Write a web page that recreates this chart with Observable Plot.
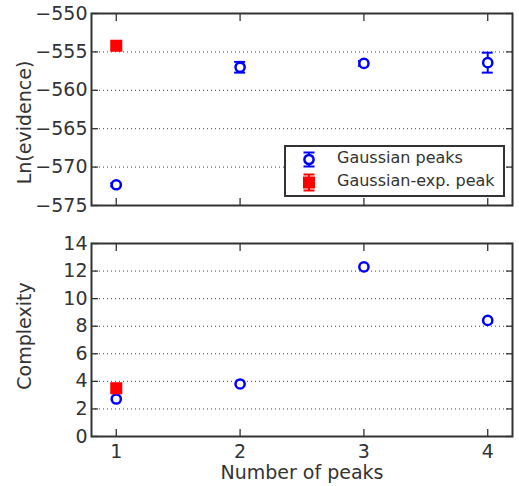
<!DOCTYPE html>
<html>
<head>
<meta charset="utf-8">
<script src="https://cdn.jsdelivr.net/npm/d3@7"></script>
<script src="https://cdn.jsdelivr.net/npm/@observablehq/plot@0.6"></script>
<style>
  html, body { margin: 0; padding: 0; background: #fff; }
  #wrap { position: relative; width: 519px; height: 486px; font-family: "DejaVu Sans", sans-serif; }
  #wrap svg { display: block; }
  #legend { position: absolute; left: 284px; top: 145px; }
</style>
</head>
<body>
<div id="wrap"></div>
<script>
// ---- data ----
const peaks = [1, 2, 3, 4];
const gaussEvidence = [-572.3, -557.0, -556.5, -556.4];
const gaussEvidenceErr = [0.2, 0.7, 0.3, 1.3];
const gaussComplexity = [2.72, 3.81, 12.3, 8.42];
const expPeaks = [1];
const expEvidence = [-554.2];
const expEvidenceErr = [0.3];
const expComplexity = [3.5];
const xTicks = [1, 2, 3, 4];
const evidenceTicks = [-575, -570, -565, -560, -555, -550];
const complexityTicks = [0, 2, 4, 6, 8, 10, 12, 14];
const seriesNames = ["Gaussian peaks", "Gaussian-exp. peak"];
const xLabel = "Number of peaks";
const evidenceLabel = "Ln(evidence)";
const complexityLabel = "Complexity";

const gauss = peaks.map((p, i) => ({x: p, ev: gaussEvidence[i], err: gaussEvidenceErr[i], cx: gaussComplexity[i]}));
const gexp = expPeaks.map((p, i) => ({x: p, ev: expEvidence[i], err: expEvidenceErr[i], cx: expComplexity[i]}));

const fmt = d3.format("d");
const ink = "#333";
const style = {fontFamily: "DejaVu Sans", fontSize: "19px", color: ink, background: "white", overflow: "visible"};

function frameAxes(yTicks, showXLabels) {
  return [
    Plot.gridY(yTicks, {stroke: "#444", strokeOpacity: 1, strokeWidth: 1, strokeDasharray: "1,3"}),
    Plot.axisY(yTicks, {anchor: "left", tickSize: -7, tickPadding: 11, tickFormat: fmt, label: null, stroke: ink, strokeWidth: 1.3, fill: ink}),
    Plot.axisY(yTicks, {anchor: "right", tickSize: -7, label: null, stroke: ink, strokeWidth: 1.3, fill: "none"}),
    Plot.axisX(xTicks, {anchor: "top", tickSize: -7, label: null, stroke: ink, strokeWidth: 1.3, fill: "none"}),
    showXLabels
      ? Plot.axisX(xTicks, {anchor: "bottom", tickSize: -7, tickPadding: 15, tickFormat: fmt, label: null, stroke: ink, strokeWidth: 1.3, fill: ink})
      : Plot.axisX(xTicks, {anchor: "bottom", tickSize: -7, label: null, stroke: ink, strokeWidth: 1.3, fill: "none"})
  ];
}

const topPlot = Plot.plot({
  width: 519, height: 224,
  marginLeft: 91, marginRight: 7, marginTop: 13, marginBottom: 19,
  x: {domain: [0.8, 4.2]},
  y: {domain: [-575, -550]},
  style,
  marks: [
    ...frameAxes(evidenceTicks, false),
    Plot.ruleX(gauss, {x: "x", y1: d => d.ev - d.err, y2: d => d.ev + d.err, stroke: "blue", strokeWidth: 2}),
    Plot.ruleY(gauss, {x1: "x", x2: "x", y: d => d.ev - d.err, insetLeft: -5.5, insetRight: -5.5, stroke: "blue", strokeWidth: 2}),
    Plot.ruleY(gauss, {x1: "x", x2: "x", y: d => d.ev + d.err, insetLeft: -5.5, insetRight: -5.5, stroke: "blue", strokeWidth: 2}),
    Plot.dot(gauss, {x: "x", y: "ev", r: 4.6, stroke: "blue", strokeWidth: 2.5, fill: "white"}),
    Plot.ruleX(gexp, {x: "x", y1: d => d.ev - d.err, y2: d => d.ev + d.err, stroke: "red", strokeWidth: 2}),
    Plot.dot(gexp, {x: "x", y: "ev", r: 6.8, symbol: "square", fill: "red", stroke: "none"}),
    Plot.text([evidenceLabel], {frameAnchor: "left", textAnchor: "middle", lineAnchor: "middle", rotate: -90, dx: -67, dy: 13, fontSize: 19, fill: ink}),
    Plot.frame({stroke: ink, strokeWidth: 2})
  ]
});

const bottomPlot = Plot.plot({
  width: 519, height: 262,
  marginLeft: 91, marginRight: 7, marginTop: 19, marginBottom: 50,
  x: {domain: [0.8, 4.2]},
  y: {domain: [0, 14]},
  style,
  marks: [
    ...frameAxes(complexityTicks, true),
    Plot.dot(gauss, {x: "x", y: "cx", r: 4.6, stroke: "blue", strokeWidth: 2.5, fill: "white"}),
    Plot.dot(gexp, {x: "x", y: "cx", r: 6.8, symbol: "square", fill: "red", stroke: "none"}),
    Plot.text([complexityLabel], {frameAnchor: "left", textAnchor: "middle", lineAnchor: "middle", rotate: -90, dx: -67, dy: -4, fontSize: 19, fill: ink}),
    Plot.text([xLabel], {frameAnchor: "bottom", textAnchor: "middle", lineAnchor: "middle", dy: 36.5, fontSize: 19, fill: ink}),
    Plot.frame({stroke: ink, strokeWidth: 2})
  ]
});

const wrap = document.getElementById("wrap");
wrap.appendChild(topPlot);
wrap.appendChild(bottomPlot);

// ---- legend ----
const lg = d3.select(wrap).append("svg")
  .attr("id", "legend").attr("width", 221).attr("height", 52);
lg.append("rect").attr("x", 1).attr("y", 1).attr("width", 219).attr("height", 50)
  .attr("fill", "white").attr("stroke", ink).attr("stroke-width", 2);
const r1 = lg.append("g").attr("transform", "translate(25,14.5)");
r1.append("line").attr("y1", -7).attr("y2", 7).attr("stroke", "blue").attr("stroke-width", 2);
r1.append("line").attr("x1", -5.5).attr("x2", 5.5).attr("y1", -7).attr("y2", -7).attr("stroke", "blue").attr("stroke-width", 2);
r1.append("line").attr("x1", -5.5).attr("x2", 5.5).attr("y1", 7).attr("y2", 7).attr("stroke", "blue").attr("stroke-width", 2);
r1.append("circle").attr("r", 4.6).attr("fill", "white").attr("stroke", "blue").attr("stroke-width", 2.5);
const r2 = lg.append("g").attr("transform", "translate(25,37.5)");
r2.append("line").attr("y1", -8).attr("y2", 8).attr("stroke", "red").attr("stroke-width", 2);
r2.append("line").attr("x1", -5.5).attr("x2", 5.5).attr("y1", -8).attr("y2", -8).attr("stroke", "red").attr("stroke-width", 2);
r2.append("line").attr("x1", -5.5).attr("x2", 5.5).attr("y1", 8).attr("y2", 8).attr("stroke", "red").attr("stroke-width", 2);
r2.append("rect").attr("x", -6).attr("y", -6).attr("width", 12).attr("height", 12).attr("fill", "red");
lg.selectAll("text.lbl").data(seriesNames).join("text")
  .attr("class", "lbl")
  .attr("x", 53).attr("y", (d, i) => 18 + i * 23.3)
  .attr("font-family", "DejaVu Sans").attr("font-size", 16).attr("fill", ink)
  .text(d => d);
</script>
</body>
</html>
